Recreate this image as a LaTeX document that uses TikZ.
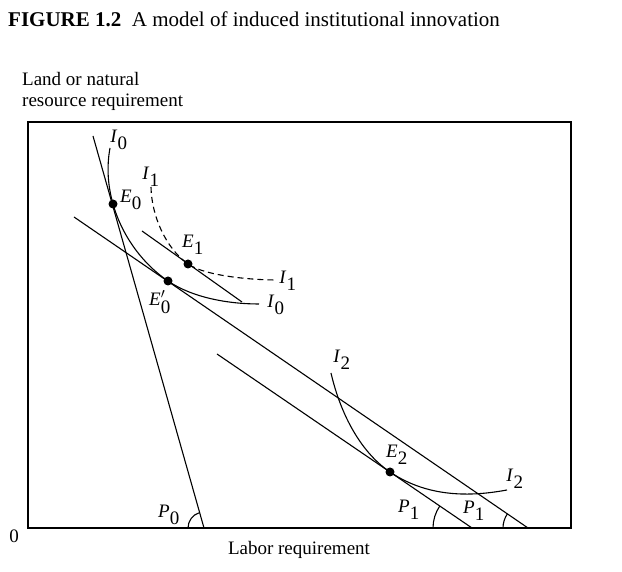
\documentclass[tikz,border=0pt]{standalone}
\usepackage{fontspec}
\setmainfont{Liberation Serif}
\newcommand{\lbl}[2]{\textit{#1}$_{\textrm{#2}}$}

\begin{document}
\begin{tikzpicture}[
    x=1pt, y=1pt,
    font=\fontsize{19}{22}\selectfont,
    frame/.style={line width=1.2pt},
    price/.style={line width=1.1pt},
    iso/.style={line width=1.1pt},
    dot/.style={circle, fill, inner sep=0pt, minimum size=9pt},
    ]
    \useasboundingbox (0,0) rectangle (622,572);

    % title and axis labels
    \node[anchor=base west, inner sep=0pt, font=\fontsize{21}{24}\selectfont] (title) at (8,545)
        {\textbf{FIGURE 1.2}\enspace A model of induced institutional innovation};
    \node[anchor=base west, inner sep=0pt] (ylab1) at (22,486) {Land or natural};
    \node[anchor=base west, inner sep=0pt] (ylab2) at (22,465) {resource requirement};
    \node (origin) at (14,36) {0};
    \node[anchor=base, inner sep=0pt] (xlab) at (299,17) {Labor requirement};

    \draw[frame] (28,44) rectangle (571,450);

    % price lines
    \coordinate (p0top) at (93,436);
    \coordinate (p0foot) at (204,44);
    \coordinate (p1top) at (74,355);
    \coordinate (p1foot) at (528,44);
    \coordinate (p1btop) at (217,218);
    \coordinate (p1bfoot) at (472,44);
    \coordinate (e1top) at (142,341);
    \coordinate (e1end) at (242,270);

    \draw[price] (p0top) -- (p0foot);
    \draw[price] (p1top) -- (p1foot);
    \draw[price] (p1btop) -- (p1bfoot);
    \draw[price] (e1top) -- (e1end);

    % equilibrium points
    \node[dot] (e0) at (113,368) {};
    \node[dot] (e0p) at (168,291) {};
    \node[dot] (e1) at (188,308) {};
    \node[dot] (e2) at (390,100) {};

    % isoquants
    \draw[iso] (110,424) .. controls (106.6,405.3) and (107.7,386.7) .. (e0.center)
        .. controls (121.7,337.2) and (141.6,309) .. (e0p.center)
        .. controls (192.8,274.1) and (229,268) .. (259,268);
    \draw[iso, dash pattern=on 6pt off 4pt] (151,385) .. controls (151.5,357) and (165.2,324.2) .. (e1.center)
        .. controls (204.3,296.4) and (250,292) .. (277,292);
    \draw[iso] (331,199) .. controls (339.5,162) and (358.5,121.3) .. (e2.center)
        .. controls (431.4,72) and (477.5,76.6) .. (507,82);

    % angles
    \draw[price] (p0foot) ++(180:16) arc[start angle=180, end angle=105.8, radius=16];
    \draw[price] (p1bfoot) ++(180:39) arc[start angle=180, end angle=145.7, radius=39];
    \draw[price] (p1foot) ++(180:25) arc[start angle=180, end angle=145.6, radius=25];

    % labels
    \node (i0top) at (119,432) {\lbl{I}{0}};
    \node (e0lab) at (131,372) {\lbl{E}{0}};
    \node (i1top) at (151,395) {\lbl{I}{1}};
    \node (e1lab) at (193,327) {\lbl{E}{1}};
    \node (i1end) at (288,291) {\lbl{I}{1}};
    \node (e0plab) at (160,270) {\textit{E}$^{\prime}_{\textrm{0}}$};
    \node (i0end) at (276,267) {\lbl{I}{0}};
    \node (i2top) at (342,212) {\lbl{I}{2}};
    \node (e2lab) at (397,117) {\lbl{E}{2}};
    \node (i2end) at (515,93) {\lbl{I}{2}};
    \node (p0lab) at (169,57) {\lbl{P}{0}};
    \node (p1lab) at (409,62) {\lbl{P}{1}};
    \node (p1blab) at (474,61) {\lbl{P}{1}};

\end{tikzpicture}
\end{document}
